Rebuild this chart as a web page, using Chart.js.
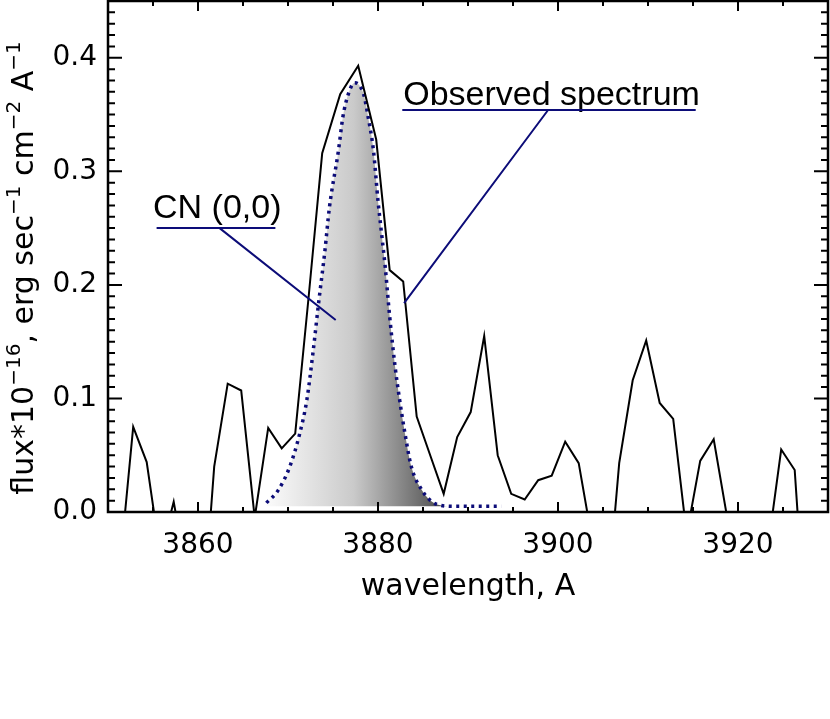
<!DOCTYPE html>
<html>
<head>
<meta charset="utf-8">
<script src="https://cdn.jsdelivr.net/npm/chart.js@4.4.1/dist/chart.umd.min.js"></script>
<style>
  html, body { margin: 0; padding: 0; background: #fff; }
  canvas { display: block; }
</style>
</head>
<body>
<canvas id="chart" width="830" height="719"></canvas>
<script>
// observed spectrum (values below 0 fall off the bottom of the frame)
const obsWave = [3851.3, 3852.8, 3854.3, 3855.8, 3857.3, 3858.8, 3860.3, 3861.8, 3863.3, 3864.8,
                 3866.3, 3867.8, 3869.3, 3870.8, 3872.3, 3873.8, 3875.8, 3877.8, 3879.8, 3881.3,
                 3882.8, 3884.3, 3885.8, 3887.3, 3888.8, 3890.3, 3891.8, 3893.3, 3894.8, 3896.3,
                 3897.8, 3899.3, 3900.8, 3902.3, 3903.8, 3905.3, 3906.8, 3908.3, 3909.8, 3911.3,
                 3912.8, 3914.3, 3915.8, 3917.3, 3918.8, 3920.3, 3921.8, 3923.3, 3924.8, 3926.3,
                 3927.8];
const obsFlux = [-0.05, 0.075, 0.044, -0.038, 0.009, -0.058, -0.12, 0.040, 0.113, 0.107,
                 -0.005, 0.074, 0.056, 0.069, 0.19, 0.316, 0.368, 0.393, 0.328, 0.213,
                 0.203, 0.084, 0.05, 0.016, 0.066, 0.088, 0.155, 0.050, 0.016, 0.011,
                 0.028, 0.032, 0.062, 0.043, -0.025, -0.095, 0.043, 0.116, 0.151, 0.096,
                 0.082, -0.02, 0.045, 0.064, -0.005, -0.05, -0.04, -0.033, 0.055, 0.037,
                 -0.14];

// CN (0,0) model band
const cnWave = [3867.6, 3868.9, 3870.2, 3871.3, 3872.1, 3872.8, 3873.4, 3874.1, 3874.6, 3875.6,
                3876.1, 3876.7, 3877.4, 3878.4, 3878.9, 3879.5, 3880.0, 3880.4, 3880.8, 3881.3,
                3881.9, 3882.4, 3883.0, 3883.7, 3884.9, 3886.0, 3886.9, 3888.5, 3890.5, 3893.7];
const cnFlux = [0.008, 0.019, 0.040, 0.069, 0.099, 0.142, 0.184, 0.230, 0.268, 0.318,
                0.348, 0.368, 0.378, 0.368, 0.348, 0.318, 0.274, 0.245, 0.216, 0.172,
                0.128, 0.099, 0.069, 0.040, 0.019, 0.009, 0.006, 0.005, 0.005, 0.005];

const xTicks = [3860, 3880, 3900, 3920];
const yTicks = [0.0, 0.1, 0.2, 0.3, 0.4];
const xRange = [3850, 3930];
const yRange = [0, 0.45];
const xMinorStep = 5;
const yMinorStep = 0.01;

const yTitleParts = [['flux*10', 0], ['\u221216', 1], [', erg sec', 0], ['\u22121', 1],
                     [' cm', 0], ['\u22122', 1], [' A', 0], ['\u22121', 1]];
const xTitle = 'wavelength, A';

const callouts = [
  { text: 'CN (0,0)', at: [3855.0, 0.2586], bar: [3855.4, 3868.6, 0.250], leader: [[3862.4, 0.250], [3875.3, 0.169]] },
  { text: 'Observed spectrum', at: [3882.8, 0.358], bar: [3882.7, 3915.3, 0.354], leader: [[3898.9, 0.354], [3882.9, 0.184]] }
];

const FONT = '"DejaVu Sans", sans-serif';
const NAVY = '#0c0c78';

const frameTicks = {
  id: 'frameTicks',
  afterDatasetsDraw(chart) {
    const { ctx, chartArea: a, scales: { x, y } } = chart;
    ctx.save();
    ctx.strokeStyle = '#000';
    ctx.lineWidth = 2;
    ctx.beginPath();
    for (let v = xRange[0]; v <= xRange[1]; v += xMinorStep) {
      const px = x.getPixelForValue(v);
      const len = xTicks.includes(v) ? 10 : 5;
      ctx.moveTo(px, a.bottom); ctx.lineTo(px, a.bottom - len);
      ctx.moveTo(px, a.top); ctx.lineTo(px, a.top + len);
    }
    const n = Math.round((yRange[1] - yRange[0]) / yMinorStep);
    for (let i = 0; i <= n; i++) {
      const py = y.getPixelForValue(yRange[0] + i * yMinorStep);
      const len = i % 10 === 0 ? 14 : 7;
      ctx.moveTo(a.left, py); ctx.lineTo(a.left + len, py);
      ctx.moveTo(a.right, py); ctx.lineTo(a.right - len, py);
    }
    ctx.stroke();
    ctx.lineWidth = 2.5;
    ctx.strokeRect(a.left, a.top, a.right - a.left, a.bottom - a.top);
    ctx.restore();
  }
};

const calloutPlugin = {
  id: 'callouts',
  afterDraw(chart) {
    const { ctx, scales: { x, y } } = chart;
    ctx.save();
    callouts.forEach(c => {
      ctx.fillStyle = '#000';
      ctx.font = '34px "Liberation Sans", Arial, sans-serif';
      ctx.textBaseline = 'alphabetic';
      ctx.textAlign = 'left';
      ctx.fillText(c.text, x.getPixelForValue(c.at[0]), y.getPixelForValue(c.at[1]));
      ctx.strokeStyle = NAVY;
      ctx.lineWidth = 2;
      ctx.beginPath();
      ctx.moveTo(x.getPixelForValue(c.bar[0]), y.getPixelForValue(c.bar[2]));
      ctx.lineTo(x.getPixelForValue(c.bar[1]), y.getPixelForValue(c.bar[2]));
      ctx.moveTo(x.getPixelForValue(c.leader[0][0]), y.getPixelForValue(c.leader[0][1]));
      ctx.lineTo(x.getPixelForValue(c.leader[1][0]), y.getPixelForValue(c.leader[1][1]));
      ctx.stroke();
    });
    ctx.restore();
  }
};

const yTitlePlugin = {
  id: 'yTitle',
  afterDraw(chart) {
    const { ctx } = chart;
    const main = '30px ' + FONT, sup = '20px ' + FONT;
    ctx.save();
    let total = 0;
    yTitleParts.forEach(([t, s]) => { ctx.font = s ? sup : main; total += ctx.measureText(t).width; });
    ctx.translate(33, 268);
    ctx.rotate(-Math.PI / 2);
    ctx.fillStyle = '#000';
    ctx.textBaseline = 'alphabetic';
    ctx.textAlign = 'left';
    let pos = -total / 2;
    yTitleParts.forEach(([t, s]) => {
      ctx.font = s ? sup : main;
      ctx.fillText(t, pos, s ? -13 : 0);
      pos += ctx.measureText(t).width;
    });
    ctx.restore();
  }
};

new Chart(document.getElementById('chart'), {
  type: 'line',
  data: {
    datasets: [
      {
        label: 'Observed spectrum',
        data: obsWave.map((w, i) => ({ x: w, y: obsFlux[i] })),
        borderColor: '#000',
        borderWidth: 2,
        pointRadius: 0,
        fill: false,
        tension: 0
      },
      {
        label: 'CN (0,0)',
        data: cnWave.map((w, i) => ({ x: w, y: cnFlux[i] })),
        borderColor: NAVY,
        borderWidth: 3.5,
        borderDash: [3, 4.5],
        pointRadius: 0,
        cubicInterpolationMode: 'monotone',
        fill: { value: 0.005 },
        backgroundColor(context) {
          const { chart } = context;
          const { ctx, chartArea, scales } = chart;
          if (!chartArea) return 'rgba(0,0,0,0)';
          const x0 = scales.x.getPixelForValue(cnWave[0]);
          const x1 = scales.x.getPixelForValue(3887);
          const g = ctx.createLinearGradient(x0, 0, x1, 0);
          g.addColorStop(0, '#fbfbfb');
          g.addColorStop(0.5, '#cacaca');
          g.addColorStop(1, '#505050');
          return g;
        }
      }
    ]
  },
  options: {
    responsive: false,
    animation: false,
    layout: { padding: { top: 1, right: 2, left: 0, bottom: 0 } },
    plugins: { legend: { display: false }, tooltip: { enabled: false } },
    scales: {
      x: {
        type: 'linear',
        min: xRange[0],
        max: xRange[1],
        afterBuildTicks(scale) { scale.ticks = xTicks.map(v => ({ value: v })); },
        afterFit(scale) { scale.height = 207; scale.paddingLeft = 0; scale.paddingRight = 0; },
        grid: { display: false, drawTicks: false },
        border: { display: false },
        ticks: { color: '#000', padding: 17, font: { family: FONT, size: 28 }, maxRotation: 0, callback: v => String(v) },
        title: { display: true, text: xTitle, color: '#000', font: { family: FONT, size: 30 }, padding: { top: 0, bottom: 114 } }
      },
      y: {
        min: yRange[0],
        max: yRange[1],
        afterBuildTicks(scale) { scale.ticks = yTicks.map(v => ({ value: v })); },
        afterFit(scale) { scale.width = 108; scale.paddingTop = 0; scale.paddingBottom = 0; },
        grid: { display: false, drawTicks: false },
        border: { display: false },
        ticks: { color: '#000', padding: 11, font: { family: FONT, size: 28 }, callback: v => v.toFixed(1) }
      }
    }
  },
  plugins: [frameTicks, calloutPlugin, yTitlePlugin]
});
</script>
</body>
</html>
